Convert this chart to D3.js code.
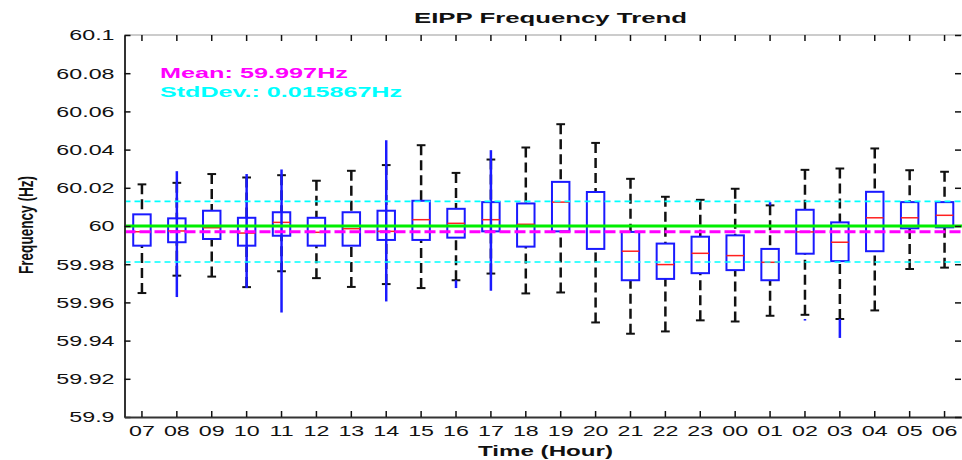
<!DOCTYPE html>
<html>
<head>
<meta charset="utf-8">
<script src="https://cdn.jsdelivr.net/npm/d3@7"></script>
<style>
  body { margin: 0; background: #fff; }
  svg text { font-family: Arial, "Liberation Sans", sans-serif; }
</style>
</head>
<body>
<svg id="chart" width="962" height="460"></svg>
<script>
// hour of day, starting at 07
const hours = ["07","08","09","10","11","12","13","14","15","16","17","18","19","20","21","22","23","00","01","02","03","04","05","06"];
const whiskerLow  = [59.9649,59.9740,59.9735,59.9680,59.9763,59.9727,59.9681,59.9696,59.9675,59.9716,59.9751,59.9647,59.9652,59.9495,59.9436,59.9448,59.9506,59.9500,59.9530,59.9535,59.9513,59.9558,59.9775,59.9782];
const q1          = [59.9897,59.9915,59.9932,59.9897,59.9949,59.9897,59.9897,59.9927,59.9927,59.9939,59.9972,59.9892,59.9972,59.9880,59.9716,59.9723,59.9753,59.9769,59.9716,59.9855,59.9816,59.9868,59.9988,59.9993];
const medians     = [59.9970,59.9974,59.9991,59.9963,60.0019,59.9967,59.9986,59.9972,60.0033,60.0014,60.0033,60.0009,60.0125,60.0000,59.9868,59.9798,59.9857,59.9845,59.9810,59.9969,59.9915,60.0043,60.0043,60.0056];
const q3          = [60.0061,60.0040,60.0080,60.0043,60.0072,60.0043,60.0072,60.0080,60.0132,60.0090,60.0125,60.0118,60.0231,60.0178,59.9969,59.9908,59.9944,59.9951,59.9880,60.0085,60.0019,60.0179,60.0125,60.0125];
const whiskerHigh = [60.0218,60.0226,60.0272,60.0254,60.0266,60.0237,60.0289,60.0319,60.0423,60.0278,60.0348,60.0411,60.0533,60.0435,60.0247,60.0153,60.0137,60.0195,60.0108,60.0294,60.0301,60.0406,60.0292,60.0284];
// blue range segments (null where none drawn)
const blueLow  = [null,59.9628,null,59.9675,59.9547,null,null,59.9605,null,59.9675,59.9661,null,null,null,null,null,null,null,60.0108,59.9505,59.9414,null,null,null];
const blueHigh = [null,60.0287,null,60.0272,60.0296,null,null,60.0449,null,59.9716,60.0397,null,null,null,null,null,null,null,60.0125,59.9513,59.9513,null,null,null];
const meanValue = 59.997;
const stdValue = 0.015867;
const nominal = 60;
const yTicks = [59.9,59.92,59.94,59.96,59.98,60,60.02,60.04,60.06,60.08,60.1];

const svg = d3.select("#chart");
const mLeft = 124.5, mRight = 962, mTop = 35, mBottom = 417;
const stretch = 1.55;

const x = d3.scaleBand().domain(hours).range([mLeft, mRight]).padding(0);
const y = d3.scaleLinear().domain([59.9, 60.1]).range([mBottom, mTop]);
const bw = x.bandwidth();
const cx = d => x(d) + bw / 2;

const data = hours.map((h, i) => ({
    h: h, lo: whiskerLow[i], q1: q1[i], med: medians[i], q3: q3[i], hi: whiskerHigh[i],
    bLo: blueLow[i], bHi: blueHigh[i]
}));

// top border
svg.append("line")
    .attr("x1", mLeft).attr("x2", mRight)
    .attr("y1", mTop).attr("y2", mTop)
    .attr("stroke", "#999").attr("stroke-width", 1);

// whiskers
const boxes = svg.append("g");
data.forEach(d => {
    const xc = cx(d.h);
    [[d.q3, d.hi], [d.q1, d.lo]].forEach(([from, to]) => {
        boxes.append("line")
            .attr("x1", xc).attr("x2", xc)
            .attr("y1", y(to)).attr("y2", y(from))
            .attr("stroke", "#111").attr("stroke-width", 2.5)
            .attr("stroke-dasharray", "10,5");
        boxes.append("line")
            .attr("x1", xc - bw / 8).attr("x2", xc + bw / 8)
            .attr("y1", y(to)).attr("y2", y(to))
            .attr("stroke", "#111").attr("stroke-width", 2);
    });
    boxes.append("rect")
        .attr("x", xc - bw / 4).attr("width", bw / 2)
        .attr("y", y(d.q3)).attr("height", y(d.q1) - y(d.q3))
        .attr("fill", "none").attr("stroke", "#1a1aff").attr("stroke-width", 2);
    boxes.append("line")
        .attr("x1", xc - bw / 4).attr("x2", xc + bw / 4)
        .attr("y1", y(d.med)).attr("y2", y(d.med))
        .attr("stroke", "#ff2020").attr("stroke-width", 1.5);
    if (d.bLo !== null) {
        boxes.append("line")
            .attr("x1", xc).attr("x2", xc)
            .attr("y1", y(d.bHi)).attr("y2", y(d.bLo))
            .attr("stroke", "#1a1aff").attr("stroke-width", 2.5);
    }
});

// reference lines
const refs = [
    { v: meanValue + stdValue, color: "#00ffff", w: 1.6, dash: "6,4" },
    { v: meanValue - stdValue, color: "#00ffff", w: 1.6, dash: "6,4" },
    { v: nominal, color: "#00ee00", w: 3, dash: null },
    { v: meanValue, color: "#ff00ff", w: 3, dash: "11,4" }
];
refs.forEach(r => {
    svg.append("line")
        .attr("x1", mLeft).attr("x2", mRight)
        .attr("y1", y(r.v)).attr("y2", y(r.v))
        .attr("stroke", r.color).attr("stroke-width", r.w)
        .attr("stroke-dasharray", r.dash);
});

// axes
const fmt = v => String(+v.toFixed(2));
const gLeft = svg.append("g").attr("transform", `translate(${mLeft},0)`)
    .call(d3.axisLeft(y).tickValues(yTicks).tickFormat(fmt).tickSizeInner(-6).tickSizeOuter(0).tickPadding(10));
gLeft.selectAll("text").attr("x", -10 / stretch).attr("transform", `scale(${stretch},1)`);

const gBottom = svg.append("g").attr("transform", `translate(0,${mBottom})`)
    .call(d3.axisBottom(x).tickSizeInner(-6).tickSizeOuter(0).tickPadding(8));
gBottom.selectAll("text").attr("transform", `scale(${stretch},1)`);

svg.append("g").attr("transform", `translate(0,${mTop})`)
    .call(d3.axisTop(x).tickSizeInner(-6).tickSizeOuter(0).tickFormat(""))
    .select(".domain").remove();
svg.append("g").attr("transform", `translate(${mRight - 1},0)`)
    .call(d3.axisRight(y).tickValues(yTicks).tickSizeInner(-6).tickSizeOuter(0).tickFormat(""))
    .select(".domain").remove();

svg.selectAll(".tick text").attr("font-size", 15).attr("font-family", "Arial, 'Liberation Sans', sans-serif").attr("fill", "#111");
svg.selectAll(".tick line").attr("stroke", "#111").attr("stroke-width", 1.5);
svg.selectAll(".domain").attr("stroke", "#333").attr("stroke-width", 2);

// texts
function label(txt, x0, yb, len, color) {
    return svg.append("text")
        .attr("x", x0).attr("y", yb)
        .attr("font-size", 15).attr("font-weight", "bold")
        .attr("fill", color)
        .attr("textLength", len).attr("lengthAdjust", "spacingAndGlyphs")
        .text(txt);
}
label("EIPP Frequency Trend", 414, 23, 273, "#111");
label("Time (Hour)", 478, 456, 135, "#111");
label("Mean: " + meanValue + "Hz", 160, 78, 188, "#ff00ff");
label("StdDev.: " + stdValue + "Hz", 160, 97, 242, "#00ffff");

svg.append("text")
    .attr("transform", "translate(33,225) rotate(-90)")
    .attr("x", -49).attr("y", 0)
    .attr("font-size", 20).attr("font-weight", "bold").attr("fill", "#111")
    .attr("textLength", 98).attr("lengthAdjust", "spacingAndGlyphs")
    .text("Frequency (Hz)");
</script>
</body>
</html>
